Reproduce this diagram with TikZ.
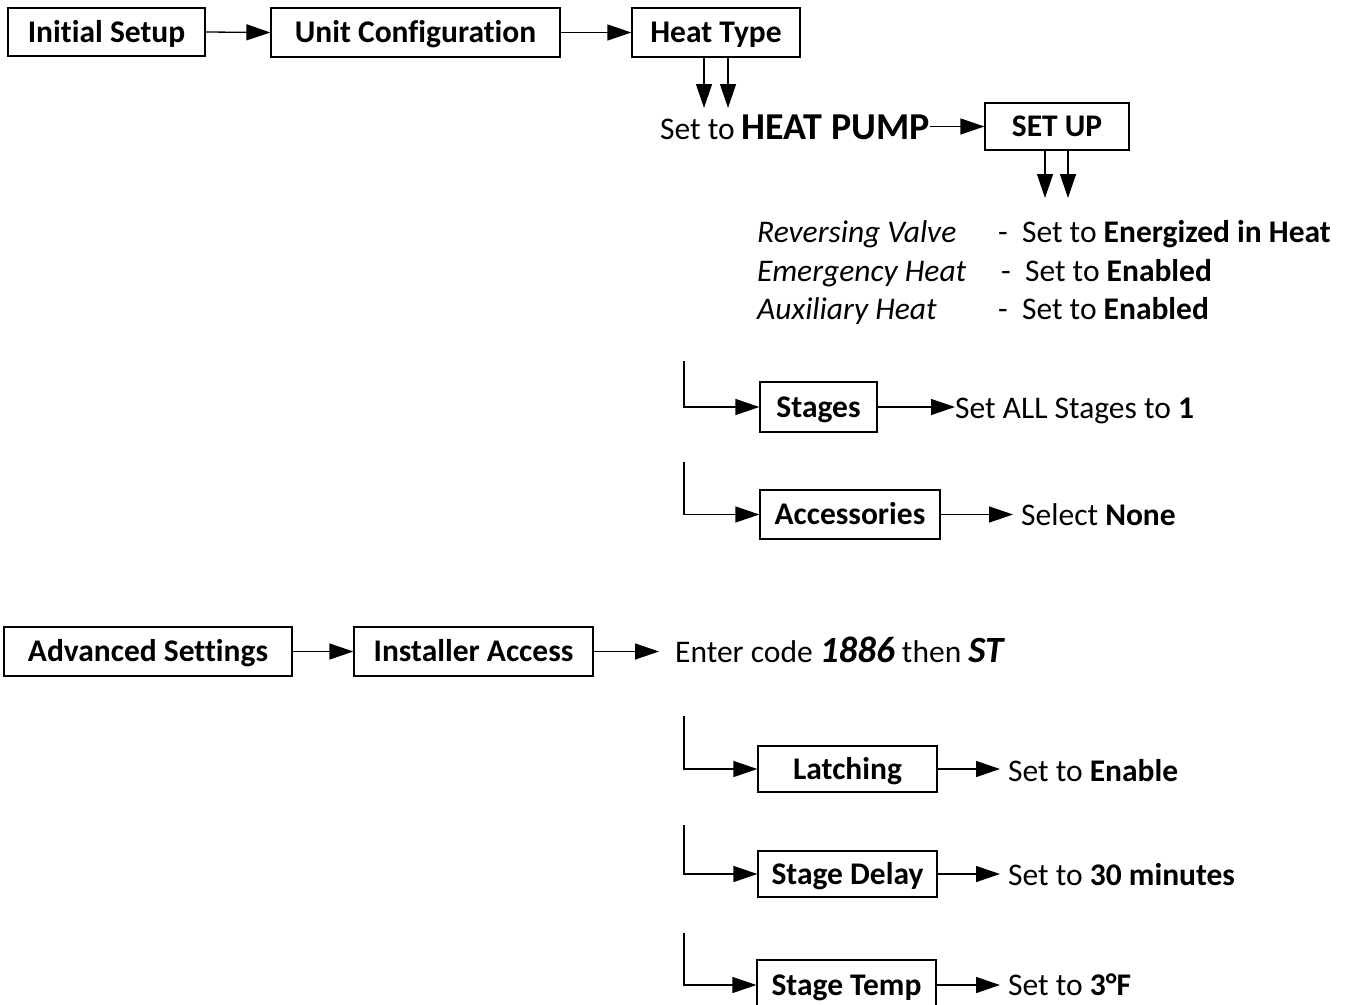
\documentclass[tikz,border=0pt]{standalone}
\usepackage{fontspec}
\setmainfont{Carlito}[Ligatures={NoCommon}]
\usetikzlibrary{arrows.meta}
\newcommand\fsz{\fontsize{31.5}{38}\selectfont}
\newcommand\bigbi{\fontsize{37}{44}\selectfont\bfseries\itshape}
\begin{document}
\begin{tikzpicture}[x=1pt,y=-1pt,
  box/.style={draw, line width=1.3pt, inner sep=0pt, font=\fsz\bfseries, text height=25pt, text depth=5pt, align=center},
  lbl/.style={inner sep=0pt, anchor=base west, font=\fsz},
  arr/.style={line width=1.3pt, -{Triangle[length=24pt,width=16pt]}},
  ln/.style={line width=1.3pt}]
\useasboundingbox (0,0) rectangle (1349,1004);
% top row
\node[box, minimum width=197pt, minimum height=48pt] (is) at (106.5,32) {Initial Setup};
\node[box, minimum width=289pt, minimum height=49pt] (uc) at (415.5,32.5) {Unit Configuration};
\node[box, minimum width=168pt, minimum height=49pt] (ht) at (716,32.5) {Heat Type};
\draw[arr] (is.east) -- (uc.west);
\draw[arr] (uc.east) -- (ht.west);
% heat pump
\coordinate (d1) at (704,108);
\coordinate (d2) at (728,108);
\draw[arr] (ht.south -| d1) -- (d1);
\draw[arr] (ht.south -| d2) -- (d2);
\node[lbl] (hp) at (660,139) {Set to {\fontsize{38}{44}\selectfont\bfseries HEAT PUMP}};
\node[box, minimum width=144pt, minimum height=47pt] (su) at (1057,126.5) {SET UP};
\draw[arr] (hp.east |- su.west) -- (su.west);
\coordinate (e1) at (1045,198);
\coordinate (e2) at (1068,198);
\draw[arr] (su.south -| e1) -- (e1);
\draw[arr] (su.south -| e2) -- (e2);
% settings list
\node[lbl] (rv) at (757,242) {\itshape Reversing Valve};
\node[lbl] (em) at (757,281) {\itshape Emergency Heat};
\node[lbl] (ax) at (757,319) {\itshape Auxiliary Heat};
\node[lbl] (rvs) at (998,242) {-~~Set to \textbf{Energized in Heat}};
\node[lbl] (ems) at (1001,281) {-~~Set to \textbf{Enabled}};
\node[lbl] (axs) at (998,319) {-~~Set to \textbf{Enabled}};
% stages
\coordinate (c1) at (684,361);
\node[box, minimum width=117pt, minimum height=50pt] (st) at (818.5,407) {Stages};
\draw[arr] (c1) |- (st.west);
\node[lbl] (sa) at (955,418) {Set ALL Stages to \textbf{1}};
\draw[arr] (st.east) -- (st.east -| sa.west);
% accessories
\coordinate (c2) at (684,462);
\node[box, minimum width=180pt, minimum height=49pt] (acc) at (850,514.5) {Accessories};
\draw[arr] (c2) |- (acc.west);
\node[lbl] (sn) at (1021,525) {Select \textbf{None}};
\draw[arr, shorten >=8pt] (acc.east) -- (acc.east -| sn.west);
% advanced
\node[box, minimum width=288pt, minimum height=49pt] (as) at (148,651.5) {Advanced Settings};
\node[box, minimum width=239pt, minimum height=49pt] (ia) at (473.5,651.5) {Installer Access};
\draw[arr] (as.east) -- (ia.west);
\node[lbl] (ec) at (675,662) {Enter code {\bigbi 1886} then {\bigbi ST}};
\draw[arr, shorten >=16pt] (ia.east) -- (ia.east -| ec.west);
% latching
\coordinate (c3) at (684,716);
\node[box, minimum width=179pt, minimum height=46pt] (la) at (847.5,769) {Latching};
\draw[arr] (c3) |- (la.west);
\node[lbl] (se) at (1008,781) {Set to \textbf{Enable}};
\draw[arr, shorten >=8pt] (la.east) -- (la.east -| se.west);
% stage delay
\coordinate (c4) at (684,825);
\node[box, minimum width=179pt, minimum height=46pt] (sd) at (847.5,874) {Stage Delay};
\draw[arr] (c4) |- (sd.west);
\node[lbl] (sdt) at (1008,885) {Set to \textbf{30 minutes}};
\draw[arr, shorten >=8pt] (sd.east) -- (sd.east -| sdt.west);
% stage temp
\coordinate (c5) at (684,933);
\node[box, minimum width=179pt, minimum height=50pt] (tp) at (846.5,985) {Stage Temp};
\draw[arr] (c5) |- (tp.west);
\node[lbl] (tpt) at (1008,995) {Set to \textbf{3°F}};
\draw[arr, shorten >=8pt] (tp.east) -- (tp.east -| tpt.west);
\end{tikzpicture}
\end{document}
